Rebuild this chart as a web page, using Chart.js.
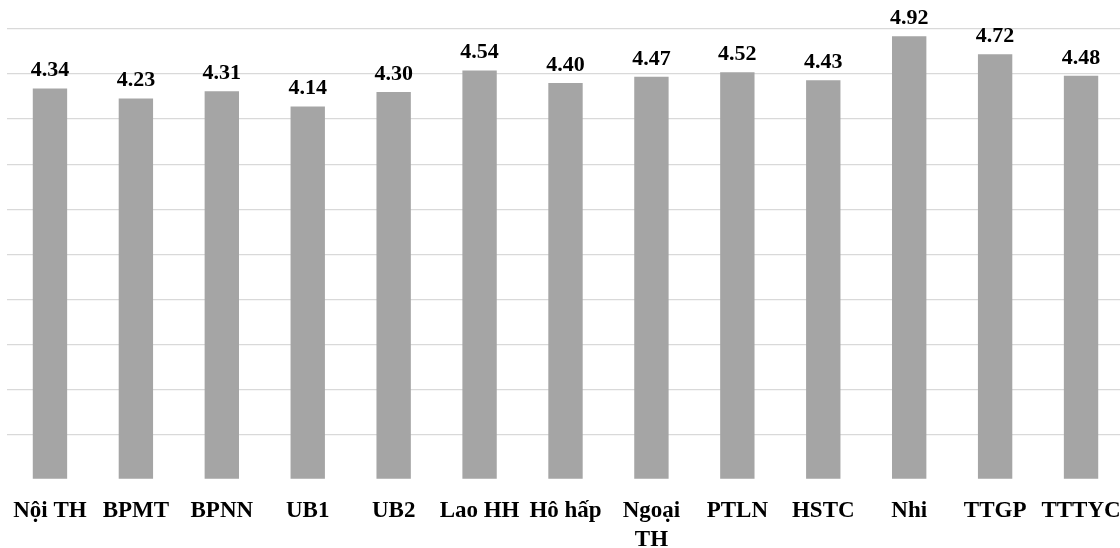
<!DOCTYPE html>
<html>
<head>
<meta charset="utf-8">
<script src="https://cdn.jsdelivr.net/npm/chart.js@4"></script>
<style>
  html, body { margin: 0; padding: 0; background: #ffffff; overflow: hidden; }
  #chart { display: block; }
</style>
</head>
<body>
<canvas id="chart" width="1124" height="548"></canvas>
<script>
// Departments and their average scores
const departments = ["Nội TH", "BPMT", "BPNN", "UB1", "UB2", "Lao HH", "Hô hấp", ["Ngoại", "TH"], "PTLN", "HSTC", "Nhi", "TTGP", "TTTYC"];
const scores = [4.34, 4.23, 4.31, 4.14, 4.30, 4.54, 4.40, 4.47, 4.52, 4.43, 4.92, 4.72, 4.48];
const yTicks = [0, 0.5, 1, 1.5, 2, 2.5, 3, 3.5, 4, 4.5, 5];

const FONT = '"Liberation Serif", "Times New Roman", serif';

// Writes each bar's value just above it
const valueLabels = {
  id: 'valueLabels',
  afterDatasetsDraw(chart) {
    const ctx = chart.ctx;
    const meta = chart.getDatasetMeta(0);
    ctx.save();
    ctx.font = 'bold 22px ' + FONT;
    ctx.fillStyle = '#000000';
    ctx.textAlign = 'center';
    ctx.textBaseline = 'alphabetic';
    meta.data.forEach((bar, i) => {
      const v = chart.data.datasets[0].data[i];
      ctx.fillText(v.toFixed(2), bar.x, bar.y - 12);
    });
    ctx.restore();
  }
};

new Chart(document.getElementById('chart'), {
  type: 'bar',
  data: {
    labels: departments,
    datasets: [{
      data: scores,
      backgroundColor: '#a5a5a5',
      borderWidth: 0,
      categoryPercentage: 0.8,
      barPercentage: 0.5
    }]
  },
  options: {
    responsive: false,
    devicePixelRatio: 1,
    animation: false,
    layout: { padding: { left: 7, right: 0, top: 29, bottom: 0 } },
    plugins: {
      legend: { display: false },
      tooltip: { enabled: false }
    },
    scales: {
      x: {
        grid: { display: false, drawTicks: false },
        border: { display: false },
        ticks: {
          autoSkip: false,
          maxRotation: 0,
          minRotation: 0,
          padding: 17,
          color: '#000000',
          font: { family: FONT, size: 23, weight: 'bold', lineHeight: 1.25 }
        },
        afterFit(scale) {
          scale.height = 68.5;
          // let the outer labels run to the edge instead of shrinking the plot
          scale.paddingLeft = 0;
          scale.paddingRight = 0;
        }
      },
      y: {
        min: 0,
        max: 5,
        afterBuildTicks(scale) { scale.ticks = yTicks.map(v => ({ value: v })); },
        afterFit(scale) { scale.width = 0; },
        ticks: { display: false },
        grid: {
          drawTicks: false,
          lineWidth: 1.3,
          color: ctx => (ctx.tick && ctx.tick.value === 0) ? 'rgba(0,0,0,0)' : '#d9d9d9'
        },
        border: { display: false }
      }
    }
  },
  plugins: [valueLabels]
});
</script>
</body>
</html>
